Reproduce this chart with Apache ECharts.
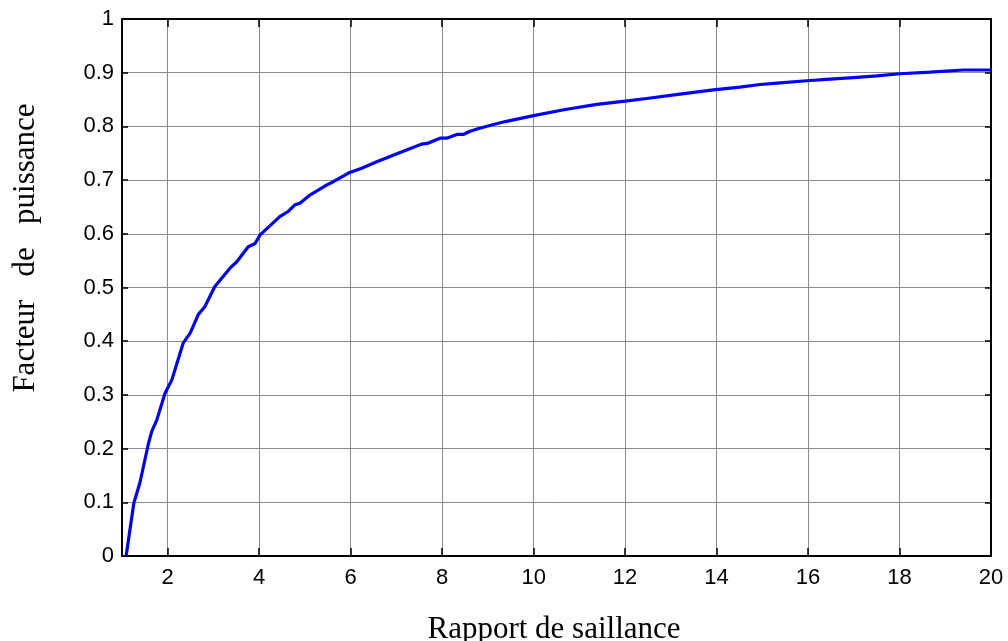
<!DOCTYPE html>
<html>
<head>
<meta charset="utf-8">
<script src="https://cdn.jsdelivr.net/npm/echarts@6/dist/echarts.min.js"></script>
<style>
  html, body { margin: 0; padding: 0; background: #fff; }
  #chart { width: 1008px; height: 641px; }
</style>
</head>
<body>
<div id="chart"></div>
<script>
// Saliency ratio (x) and resulting power factor (y)
const ratio = [1.09, 1.26, 1.39, 1.58, 1.65, 1.76, 1.94, 2.09, 2.34, 2.49, 2.67, 2.81,
  3.03, 3.36, 3.51, 3.76, 3.91, 4.02, 4.45, 4.64, 4.78, 4.89, 5.09, 5.48, 5.62, 5.95,
  6.24, 6.57, 6.86, 7.22, 7.55, 7.70, 7.95, 8.10, 8.32, 8.46, 8.61, 8.80, 9.10, 9.38,
  10.0, 10.66, 11.38, 12.0, 12.47, 13.2, 13.93, 14.51, 14.95, 15.39, 15.97, 16.48,
  16.99, 17.5, 18.01, 18.67, 19.39, 20.0];
const powerFactor = [0, 0.099, 0.136, 0.21, 0.232, 0.253, 0.303, 0.328, 0.397, 0.415, 0.450, 0.464,
  0.502, 0.536, 0.548, 0.576, 0.582, 0.598, 0.632, 0.642, 0.654, 0.657, 0.671, 0.691, 0.697, 0.713,
  0.722, 0.734, 0.744, 0.756, 0.767, 0.769, 0.778, 0.778, 0.785, 0.785, 0.791, 0.796, 0.803, 0.809,
  0.820, 0.831, 0.841, 0.847, 0.852, 0.860, 0.868, 0.873, 0.878, 0.881, 0.885, 0.888,
  0.891, 0.894, 0.898, 0.901, 0.905, 0.905];
const xTicks = [2, 4, 6, 8, 10, 12, 14, 16, 18, 20];
const xTitle = 'Rapport de saillance';
const yTitle = 'Facteur   de   puissance';

const chart = echarts.init(document.getElementById('chart'), null, { renderer: 'canvas' });

const tickFont = { fontFamily: 'Liberation Sans, Arial, sans-serif', fontSize: 22, color: '#000' };
const gridLine = { show: true, lineStyle: { color: '#8c8c8c', width: 1, type: 'solid' } };
const frame = { show: true, onZero: false, lineStyle: { color: '#000', width: 2 } };
const titleFont = '31px "Liberation Serif", "Times New Roman", serif';

chart.setOption({
  animation: false,
  backgroundColor: '#fff',
  grid: { left: 122, right: 17, top: 19, bottom: 85 },
  xAxis: [
    {
      type: 'value', min: 1, max: 20, position: 'bottom',
      axisLine: frame,
      axisTick: { show: true, inside: true, length: 8, customValues: xTicks, lineStyle: { color: '#000', width: 1.5 } },
      axisLabel: { show: true, margin: 11, customValues: xTicks, ...tickFont },
      splitLine: gridLine
    },
    {
      type: 'value', min: 1, max: 20, position: 'top',
      axisLine: frame,
      axisTick: { show: true, inside: true, length: 8, customValues: xTicks, lineStyle: { color: '#000', width: 1.5 } },
      axisLabel: { show: false, customValues: xTicks },
      splitLine: { show: false }
    }
  ],
  yAxis: [
    {
      type: 'value', min: 0, max: 1, interval: 0.1, position: 'left',
      axisLine: frame,
      axisTick: { show: true, inside: true, length: 6, lineStyle: { color: '#000', width: 1.5 } },
      axisLabel: { show: true, margin: 8, ...tickFont },
      splitLine: gridLine
    },
    {
      type: 'value', min: 0, max: 1, interval: 0.1, position: 'right',
      axisLine: frame,
      axisTick: { show: true, inside: true, length: 6, lineStyle: { color: '#000', width: 1.5 } },
      axisLabel: { show: false },
      splitLine: { show: false }
    }
  ],
  graphic: [
    {
      type: 'text', x: 554, y: 630,
      style: { text: xTitle, font: titleFont, fill: '#000',
               textAlign: 'center', textVerticalAlign: 'middle' }
    },
    {
      type: 'text', x: 26, y: 248, rotation: Math.PI / 2,
      style: { text: yTitle, font: titleFont, fill: '#000',
               textAlign: 'center', textVerticalAlign: 'middle' }
    }
  ],
  series: [
    {
      type: 'line',
      xAxisIndex: 0, yAxisIndex: 0,
      data: ratio.map((r, i) => [r, powerFactor[i]]),
      showSymbol: false,
      smooth: false,
      lineStyle: { color: '#0000ff', width: 3.2 },
      z: 5
    }
  ]
});
</script>
</body>
</html>
